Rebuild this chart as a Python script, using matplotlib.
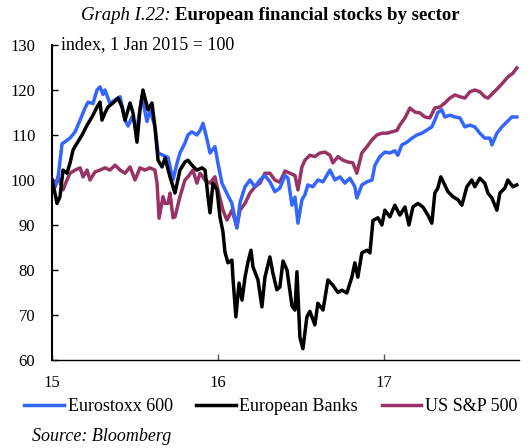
import matplotlib
matplotlib.use("Agg")
import matplotlib.pyplot as plt

plt.rcParams['font.family'] = ['Liberation Serif', 'DejaVu Serif']

# index, 1 Jan 2015 = 100 ; time as decimal years
stoxx_t = [2015.000, 2015.018, 2015.036, 2015.060, 2015.078, 2015.108, 2015.139, 2015.169,
           2015.199, 2015.217, 2015.247, 2015.271, 2015.289, 2015.307, 2015.319, 2015.349,
           2015.380, 2015.410, 2015.440, 2015.458, 2015.482, 2015.512, 2015.542, 2015.572,
           2015.590, 2015.620, 2015.639, 2015.669, 2015.699, 2015.729, 2015.753, 2015.771,
           2015.801, 2015.819, 2015.843, 2015.873, 2015.892, 2015.910, 2015.934, 2015.952,
           2015.982, 2016.000, 2016.024, 2016.054, 2016.084, 2016.114, 2016.133, 2016.163,
           2016.193, 2016.223, 2016.253, 2016.283, 2016.313, 2016.343, 2016.373, 2016.404,
           2016.422, 2016.446, 2016.464, 2016.482, 2016.506, 2016.524, 2016.542, 2016.572,
           2016.602, 2016.633, 2016.675, 2016.705, 2016.735, 2016.765, 2016.795, 2016.825,
           2016.837, 2016.867, 2016.898, 2016.928, 2016.946, 2016.976, 2017.006, 2017.036,
           2017.066, 2017.084, 2017.108, 2017.139, 2017.169, 2017.199, 2017.229, 2017.259,
           2017.289, 2017.307, 2017.325, 2017.349, 2017.367, 2017.398, 2017.428, 2017.458,
           2017.488, 2017.518, 2017.548, 2017.578, 2017.608, 2017.639, 2017.651, 2017.681,
           2017.711, 2017.741, 2017.771, 2017.801]
stoxx = [100, 98.5, 100.4, 108, 108.5, 109.3, 110.7, 113.3,
         116, 117.3, 117, 120, 120.7, 119, 120, 117,
         117.8, 118.5, 113.3, 112, 114, 111.5, 118.5, 113,
         115.5, 112, 106, 105.5, 105, 100, 103.7, 106,
         108.2, 110, 110.7, 110, 111, 112.6, 109, 106,
         107.4, 103.7, 99.3, 97, 94.8, 89.3, 95, 98.5,
         100, 98.5, 100, 101, 99.6, 97.4, 98.2, 101,
         100.4, 94.4, 96.2, 90.4, 95.6, 96.7, 98.9, 98.5,
         100, 99.6, 102.2, 100, 100.7, 99.3, 100.4, 98.5,
         96, 98.9, 99.6, 100, 103.3, 105.2, 106.2, 106,
         106.5, 105.5, 107.8, 108.4, 109.3, 110, 110.4, 111.1,
         111.8, 113.3, 115, 115.6, 114, 114.4, 114, 113.8,
         111.8, 112.2, 111.8, 110.4, 109.3, 109.3, 107.8, 110.4,
         111.8, 112.9, 114, 114]

banks_t = [2015.000, 2015.018, 2015.030, 2015.048, 2015.066, 2015.090, 2015.108, 2015.127,
           2015.151, 2015.181, 2015.211, 2015.241, 2015.271, 2015.289, 2015.301, 2015.319,
           2015.337, 2015.367, 2015.398, 2015.422, 2015.440, 2015.470, 2015.488, 2015.512,
           2015.530, 2015.548, 2015.578, 2015.602, 2015.620, 2015.639, 2015.663, 2015.681,
           2015.711, 2015.741, 2015.771, 2015.801, 2015.819, 2015.843, 2015.873, 2015.904,
           2015.922, 2015.940, 2015.952, 2015.970, 2015.994, 2016.012, 2016.030, 2016.042,
           2016.060, 2016.084, 2016.090, 2016.108, 2016.127, 2016.145, 2016.163, 2016.181,
           2016.199, 2016.211, 2016.241, 2016.265, 2016.283, 2016.313, 2016.331, 2016.355,
           2016.373, 2016.392, 2016.416, 2016.446, 2016.464, 2016.476, 2016.494, 2016.512,
           2016.536, 2016.554, 2016.584, 2016.602, 2016.633, 2016.663, 2016.693, 2016.723,
           2016.747, 2016.777, 2016.807, 2016.825, 2016.843, 2016.867, 2016.898, 2016.916,
           2016.934, 2016.964, 2016.988, 2017.006, 2017.036, 2017.066, 2017.096, 2017.127,
           2017.151, 2017.175, 2017.205, 2017.235, 2017.265, 2017.289, 2017.307, 2017.325,
           2017.343, 2017.367, 2017.386, 2017.416, 2017.446, 2017.470, 2017.500, 2017.530,
           2017.548, 2017.578, 2017.608, 2017.627, 2017.651, 2017.681, 2017.699, 2017.729,
           2017.747, 2017.777, 2017.801]
banks = [100, 97, 94.8, 96.3, 102.2, 101.5, 103.7, 106.7,
         108.2, 110, 112.2, 114, 116.2, 117.3, 113.3, 114.9,
         116.2, 117.1, 118.2, 116.2, 113.3, 117.1, 114.9, 108.4,
         115.6, 120, 115.6, 117.1, 111.8, 104.4, 102.9, 104.9,
         100.7, 97.1, 102.2, 104, 104.4, 103.3, 102.2, 102.7,
         102.2, 96.3, 92.7, 99.3, 97.8, 91.8, 88.5, 84,
         81.6, 82.2, 78.4, 69.6, 77.1, 73.3, 78.4, 81.8,
         84.4, 80.7, 77.8, 71.8, 78.4, 82.9, 79.3, 75.6,
         76.2, 82, 80, 72, 71.1, 79.6, 65, 62.5,
         69.6, 70.8, 67.8, 72.6, 71.1, 77.8, 76.6, 75,
         75.5, 74.9, 78.4, 81.6, 78.4, 83.8, 84.4, 83.8,
         91, 91.6, 90, 93.3, 91.8, 94.4, 92.2, 94,
         90, 94, 94.8, 94, 92.2, 90.4, 97.1, 98.2,
         100.7, 98.9, 97.4, 96.3, 95.6, 94.4, 98.5, 100,
         98.5, 100.4, 99.3, 97.1, 96, 93.3, 97.1, 98.2,
         100, 98.5, 98.9]

sp500_t = [2015.000, 2015.018, 2015.036, 2015.066, 2015.090, 2015.108, 2015.139, 2015.169,
           2015.187, 2015.211, 2015.229, 2015.259, 2015.289, 2015.319, 2015.349, 2015.380,
           2015.410, 2015.440, 2015.470, 2015.500, 2015.530, 2015.560, 2015.590, 2015.620,
           2015.633, 2015.645, 2015.669, 2015.681, 2015.699, 2015.711, 2015.729, 2015.741,
           2015.771, 2015.801, 2015.819, 2015.849, 2015.873, 2015.892, 2015.922, 2015.952,
           2015.982, 2016.000, 2016.030, 2016.054, 2016.084, 2016.114, 2016.133, 2016.163,
           2016.193, 2016.223, 2016.253, 2016.283, 2016.313, 2016.343, 2016.373, 2016.404,
           2016.434, 2016.464, 2016.482, 2016.506, 2016.524, 2016.554, 2016.584, 2016.614,
           2016.645, 2016.675, 2016.693, 2016.723, 2016.753, 2016.783, 2016.813, 2016.837,
           2016.867, 2016.898, 2016.928, 2016.958, 2016.988, 2017.018, 2017.048, 2017.078,
           2017.096, 2017.127, 2017.157, 2017.187, 2017.217, 2017.247, 2017.277, 2017.307,
           2017.337, 2017.367, 2017.398, 2017.428, 2017.458, 2017.488, 2017.518, 2017.548,
           2017.578, 2017.608, 2017.627, 2017.657, 2017.687, 2017.717, 2017.747, 2017.777,
           2017.801]
sp500 = [100, 98.5, 100.7, 97.8, 100, 101.5, 102.2, 102.7,
         100.7, 102.2, 100, 101.8, 102.2, 102.7, 102.2, 103.3,
         102.2, 101.5, 102.9, 100, 102.7, 102.2, 102.7, 102.2,
         99.3, 91.5, 96.3, 94.8, 94.8, 97.1, 91.6, 91.8,
         96.3, 100, 100.7, 102.2, 99.3, 101.5, 100, 99.3,
         100.7, 97.8, 93.3, 91.1, 93.3, 89.6, 93.3, 94.8,
         97.1, 98.5, 99.3, 101.5, 101.5, 100, 99.5, 102,
         101.5, 101, 97.8, 102.9, 104.4, 105.5, 105.2, 106,
         106.2, 105.5, 103.8, 105.2, 104.4, 104, 103.8, 101.5,
         106, 107.4, 108.9, 110, 110.4, 110.4, 110.7, 111,
         112.2, 113.8, 116, 115.1, 114.9, 114, 113.8, 116,
         116.2, 117.1, 118.2, 118.9, 118.5, 118.2, 119.6, 120,
         119.6, 118.5, 118.2, 119.3, 120.4, 121.6, 122.9, 123.7,
         124.9]

year_ticks = [2015, 2016, 2017]
year_labels = ['15', '16', '17']

fig = plt.figure(figsize=(5.31, 4.48), dpi=100)
ax = fig.add_axes([0.098, 0.1964, 0.879, 0.7032])

ax.plot(sp500_t, sp500, color='#993366', lw=2.5, label='US S&P 500')
ax.plot(stoxx_t, stoxx, color='#3366ff', lw=2.5, label='Eurostoxx 600')
ax.plot(banks_t, banks, color='black', lw=2.5, label='European Banks')

ax.set_xlim(2015, 2017.813)
ax.set_ylim(60, 130)
ax.set_yticks(range(60, 131, 10))
ax.set_xticks(year_ticks)
ax.set_xticklabels(year_labels)
ax.tick_params(axis='y', direction='in', length=4, width=1, pad=12, labelsize=12)
ax.tick_params(axis='x', direction='in', length=4, width=1, pad=11, labelsize=12,
               color='#555555')
for s in ['top', 'right']:
    ax.spines[s].set_visible(False)
ax.spines['left'].set_linewidth(1.5)
ax.spines['bottom'].set_linewidth(1.0)

ax.text(0.02, 1.0, 'index, 1 Jan 2015 = 100', transform=ax.transAxes,
        fontsize=13, va='center', ha='left')

fig.text(0.322, 0.966, 'Graph I.22:', fontsize=13.5, style='italic', ha='right', va='center')
fig.text(0.330, 0.966, 'European financial stocks by sector', fontsize=13.5,
         weight='bold', ha='left', va='center')

h, l = ax.get_legend_handles_labels()
order = [1, 2, 0]
fig.legend([h[i] for i in order], [l[i] for i in order], loc='center',
           bbox_to_anchor=(0.51, 0.092), ncol=3, frameon=False, fontsize=13,
           handlelength=2.2, handletextpad=0.2, columnspacing=1.3)

fig.text(0.06, 0.025, 'Source: Bloomberg', fontsize=13, style='italic', ha='left', va='center')

fig.savefig('out.png', dpi=100)
